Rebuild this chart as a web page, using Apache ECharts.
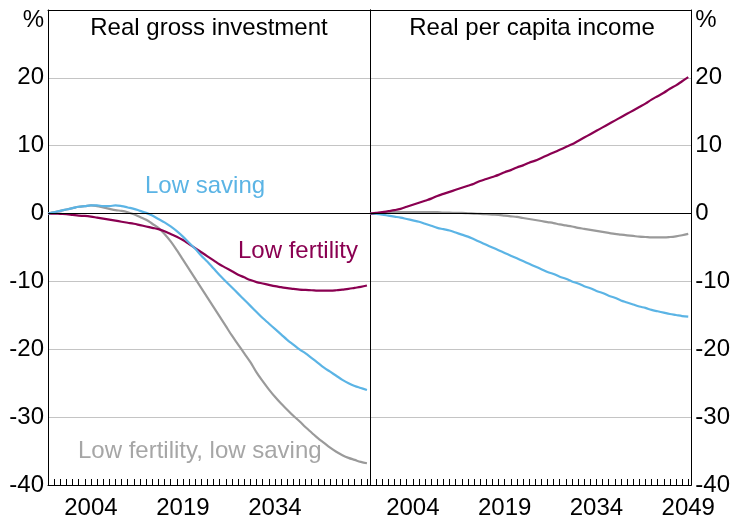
<!DOCTYPE html>
<html>
<head>
<meta charset="utf-8">
<script src="https://cdn.jsdelivr.net/npm/echarts@6/dist/echarts.min.js"></script>
<style>
  html, body { margin: 0; padding: 0; background: #fff; }
  #chart { width: 733px; height: 523px; }
</style>
</head>
<body>
<div id="chart"></div>
<script>
// years 1997 - 2049
const years = [];
for (let y = 1997; y <= 2049; y++) years.push(y);

// Real gross investment (left panel)
const invLowSaving = [0, 0.2, 0.4, 0.6, 0.8, 1.0, 1.1, 1.2, 1.2, 1.1, 1.1, 1.2, 1.1, 0.9, 0.7, 0.4, 0.1, -0.3, -0.8, -1.3,
  -1.9, -2.6, -3.4, -4.3, -5.2, -6.2, -7.1, -8.1, -9.1, -10.0, -10.9, -11.8, -12.7, -13.6, -14.5, -15.4, -16.2, -17.0,
  -17.8, -18.6, -19.3, -20.0, -20.6, -21.3, -22.0, -22.7, -23.3, -23.9, -24.5, -25.0, -25.4, -25.7, -26.0];
const invLowFertility = [0, 0, -0.05, -0.1, -0.2, -0.3, -0.35, -0.45, -0.6, -0.75, -0.9, -1.05, -1.2, -1.35, -1.5, -1.7,
  -1.9, -2.1, -2.3, -2.6, -3.0, -3.4, -3.9, -4.5, -5.1, -5.7, -6.3, -6.9, -7.5, -8.0, -8.5, -9.0, -9.4, -9.8, -10.1,
  -10.3, -10.5, -10.7, -10.85, -11.0, -11.1, -11.2, -11.25, -11.3, -11.35, -11.35, -11.35, -11.3, -11.2, -11.1, -10.95,
  -10.8, -10.6];
const invBoth = [0, 0.2, 0.4, 0.6, 0.8, 1.0, 1.1, 1.2, 1.1, 0.9, 0.7, 0.5, 0.4, 0.2, -0.1, -0.5, -0.9, -1.5, -2.1, -3.0,
  -4.1, -5.4, -6.8, -8.2, -9.6, -11.0, -12.4, -13.8, -15.2, -16.6, -18.0, -19.3, -20.6, -21.9, -23.4, -24.7, -25.9,
  -27.0, -28.0, -28.9, -29.8, -30.6, -31.5, -32.3, -33.1, -33.8, -34.5, -35.1, -35.6, -36.0, -36.3, -36.6, -36.8];

// Real per capita income (right panel)
const incLowSaving = [0, -0.05, -0.15, -0.3, -0.45, -0.6, -0.8, -1.0, -1.2, -1.5, -1.8, -2.1, -2.3, -2.5, -2.8, -3.1,
  -3.4, -3.8, -4.2, -4.6, -5.0, -5.4, -5.8, -6.2, -6.6, -7.0, -7.4, -7.8, -8.2, -8.6, -8.9, -9.3, -9.6, -10.0, -10.3,
  -10.7, -11.0, -11.4, -11.7, -12.1, -12.4, -12.8, -13.1, -13.4, -13.7, -13.9, -14.2, -14.4, -14.6, -14.8, -14.95,
  -15.1, -15.2];
const incLowFertility = [0, 0.1, 0.2, 0.35, 0.5, 0.7, 1.0, 1.3, 1.6, 1.9, 2.2, 2.6, 2.9, 3.2, 3.5, 3.8, 4.1, 4.4, 4.8,
  5.1, 5.4, 5.7, 6.1, 6.4, 6.8, 7.1, 7.5, 7.8, 8.2, 8.6, 9.0, 9.4, 9.8, 10.2, 10.7, 11.2, 11.7, 12.2, 12.7, 13.2, 13.7,
  14.2, 14.7, 15.2, 15.7, 16.2, 16.8, 17.3, 17.8, 18.4, 18.9, 19.5, 20.1];
const incBoth = [0, 0.05, 0.1, 0.15, 0.2, 0.2, 0.2, 0.2, 0.2, 0.2, 0.2, 0.2, 0.15, 0.15, 0.1, 0.1, 0.05, 0, -0.05, -0.1,
  -0.15, -0.2, -0.3, -0.4, -0.5, -0.65, -0.8, -0.95, -1.1, -1.25, -1.4, -1.6, -1.75, -1.9, -2.1, -2.25, -2.4, -2.55,
  -2.7, -2.85, -3.0, -3.1, -3.2, -3.3, -3.4, -3.45, -3.5, -3.5, -3.5, -3.45, -3.35, -3.2, -3.0];

const yTicks = [-40, -30, -20, -10, 0, 10, 20, 30];
const leftLabelYears = [2004, 2019, 2034];
const rightLabelYears = [2004, 2019, 2034, 2049];

const BLUE = '#5bb4e5';
const MAROON = '#8a0051';
const GREY = '#9a9a9a';
const FONT = 'Liberation Sans, Arial, sans-serif';
const FS = 24;
const X_MIN = 1997, X_MAX = 2049.5;

function pairs(vals) {
  return vals.map((v, i) => [years[i], v]);
}

// bottom axis with yearly ticks pointing into the plot
function xAxis(idx, labelYears) {
  return {
    type: 'value', gridIndex: idx, position: 'bottom', min: X_MIN, max: X_MAX, interval: 1,
    axisLine: { show: true, onZero: false, lineStyle: { color: '#000', width: 1 } },
    axisTick: { show: true, inside: true, length: 6, lineStyle: { color: '#000', width: 1 } },
    splitLine: { show: false },
    axisLabel: {
      margin: 11, fontSize: FS, color: '#000', fontFamily: FONT, showMinLabel: true, showMaxLabel: true,
      formatter: v => (labelYears.indexOf(v) >= 0 ? String(v) : '')
    },
    z: 6
  };
}

// plain line used as the top edge of a panel
function topEdge(idx) {
  return {
    type: 'value', gridIndex: idx, position: 'top', min: X_MIN, max: X_MAX,
    axisLine: { show: true, onZero: false, lineStyle: { color: '#000', width: 1 } },
    axisTick: { show: false }, axisLabel: { show: false }, splitLine: { show: false }
  };
}

function yAxis(idx, pos) {
  return {
    type: 'value', gridIndex: idx, position: pos, min: yTicks[0], max: yTicks[yTicks.length - 1], interval: 10,
    axisLine: { show: true, onZero: false, lineStyle: { color: '#000' } },
    axisTick: { show: false },
    splitLine: { show: true, lineStyle: { color: '#c4c4c4', width: 1 } },
    axisLabel: {
      margin: 4, fontSize: FS, color: '#000', fontFamily: FONT,
      formatter: v => (v === 30 ? '{p|%}' : String(v)),
      rich: { p: { fontSize: FS, fontFamily: FONT, color: '#000', padding: [20, 0, 0, 0] } }
    }
  };
}

// plain line used as the inner side edge of a panel
function sideEdge(idx, pos) {
  return {
    type: 'value', gridIndex: idx, position: pos, min: yTicks[0], max: yTicks[yTicks.length - 1],
    axisLine: { show: true, onZero: false, lineStyle: { color: '#000' } },
    axisTick: { show: false }, axisLabel: { show: false }, splitLine: { show: false }
  };
}

function line(name, vals, color, idx, zero) {
  const s = {
    name: name, type: 'line', xAxisIndex: idx, yAxisIndex: idx,
    data: pairs(vals), showSymbol: false, smooth: 0.4,
    lineStyle: { color: color, width: 2.2 }, itemStyle: { color: color }, z: 3
  };
  if (zero) {
    s.markLine = {
      silent: true, symbol: 'none', label: { show: false },
      lineStyle: { color: '#000', width: 1, type: 'solid' },
      data: [{ yAxis: 0 }]
    };
  }
  return s;
}

const chart = echarts.init(document.getElementById('chart'));
chart.setOption({
  animation: false,
  textStyle: { fontFamily: FONT },
  title: [
    { text: 'Real gross investment', left: 209, top: 16, padding: 0, textAlign: 'center',
      textStyle: { fontSize: FS, fontWeight: 'normal', color: '#000', fontFamily: FONT } },
    { text: 'Real per capita income', left: 532, top: 16, padding: 0, textAlign: 'center',
      textStyle: { fontSize: FS, fontWeight: 'normal', color: '#000', fontFamily: FONT } }
  ],
  grid: [
    { left: 48, right: 363, top: 10, bottom: 38, show: false },
    { left: 370, right: 40, top: 10, bottom: 38, show: false }
  ],
  xAxis: [xAxis(0, leftLabelYears), xAxis(1, rightLabelYears), topEdge(0), topEdge(1)],
  yAxis: [yAxis(0, 'left'), yAxis(1, 'right'), sideEdge(0, 'right'), sideEdge(1, 'left')],
  graphic: [
    { type: 'text', left: 145, top: 174, style: { text: 'Low saving', fill: BLUE, fontSize: FS, fontFamily: FONT } },
    { type: 'text', left: 238, top: 239, style: { text: 'Low fertility', fill: MAROON, fontSize: FS, fontFamily: FONT } },
    { type: 'text', left: 78, top: 439, style: { text: 'Low fertility, low saving', fill: '#a6a6a6', fontSize: FS, fontFamily: FONT } }
  ],
  series: [
    line('Low fertility, low saving', invBoth, GREY, 0, true),
    line('Low fertility', invLowFertility, MAROON, 0, false),
    line('Low saving', invLowSaving, BLUE, 0, false),
    line('Low fertility, low saving', incBoth, GREY, 1, true),
    line('Low saving', incLowSaving, BLUE, 1, false),
    line('Low fertility', incLowFertility, MAROON, 1, false)
  ]
});
</script>
</body>
</html>
